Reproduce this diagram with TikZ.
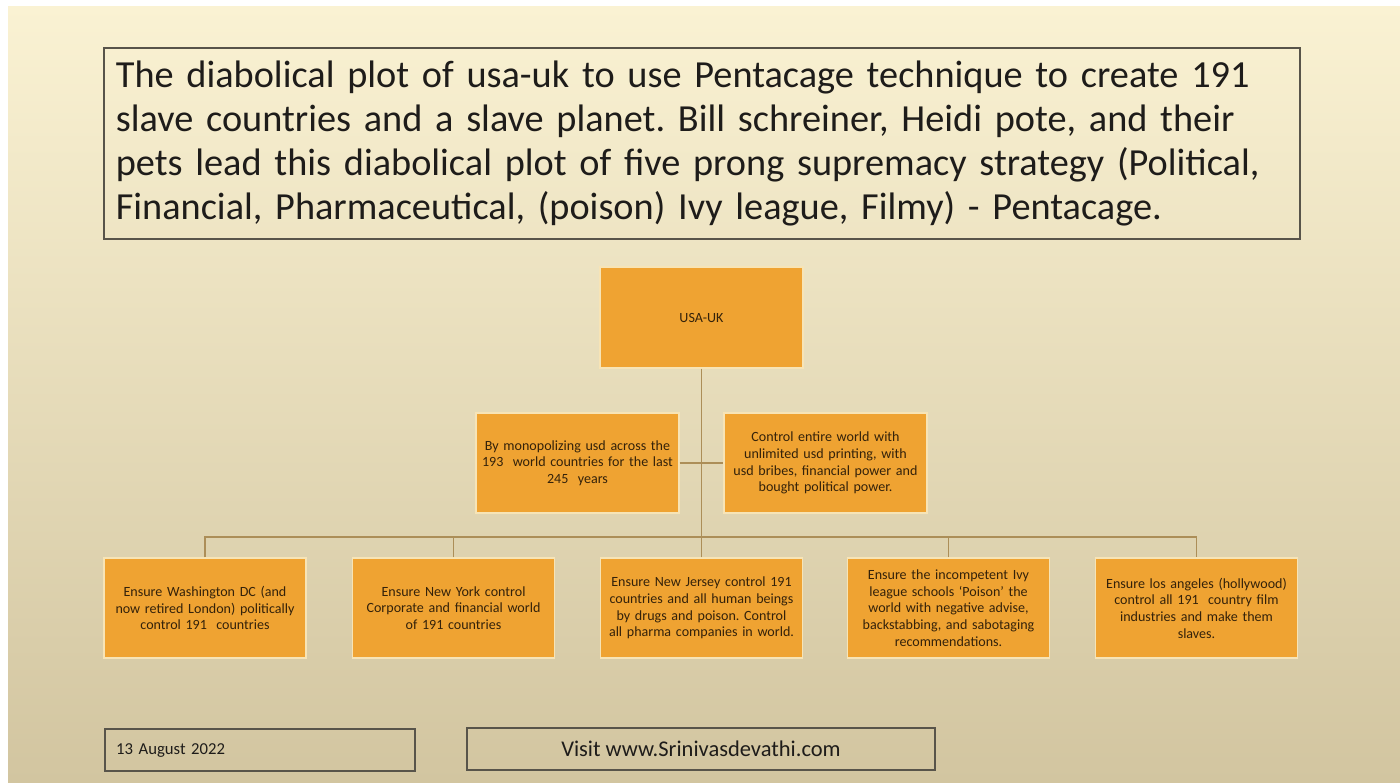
\documentclass[tikz,border=0pt]{standalone}
\usepackage{fontspec}
\setmainfont{Carlito}
\frenchspacing
\definecolor{creamtop}{RGB}{250,242,211}
\definecolor{creammid}{RGB}{242,232,196}
\definecolor{tanbottom}{RGB}{210,197,160}
\definecolor{prongfill}{RGB}{239,163,50}
\definecolor{prongrim}{RGB}{247,228,182}
\definecolor{prongink}{RGB}{52,34,10}
\definecolor{linkbrown}{RGB}{172,142,88}
\definecolor{platerim}{RGB}{88,84,74}
\definecolor{plateink}{RGB}{30,28,26}
\tikzset{
  prong/.style={fill=prongfill, draw=prongrim, line width=0.8pt, text=prongink,
    minimum width=4.04cm, minimum height=2cm, text width=3.95cm, align=center,
    inner sep=0pt, font=\fontsize{8}{9.5}\selectfont},
  link/.style={draw=linkbrown, line width=1pt},
  plate/.style={draw=platerim, line width=1pt, text=plateink, inner sep=0pt}
}
\begin{document}
\begin{tikzpicture}[x=0.02cm, y=-0.02cm]
  \useasboundingbox (0,0) rectangle (1400,782);
  \fill[white] (0,0) rectangle (1400,782);
  \shade[top color=creamtop, middle color=creammid, bottom color=tanbottom] (8,6) rectangle (1400,782);

  \node[plate, anchor=north west, minimum width=23.92cm, minimum height=3.82cm,
    text width=23.44cm, align=left, font=\fontsize{21.8}{25}\selectfont] (title) at (103,47)
    {The diabolical plot of usa-uk to use Pentacage technique to create 191\\
     slave countries and a slave planet. Bill schreiner, Heidi pote, and their\\
     pets lead this diabolical plot of five prong supremacy strategy (Political,\\
     Financial, Pharmaceutical, (poison) Ivy league, Filmy) - Pentacage.};

  \node[prong, minimum width=4.06cm, minimum height=2.02cm] (usa) at (701.5,317.5) {USA-UK};
  \node[prong, minimum width=4.06cm] (usd) at (577.5,463)
    {By monopolizing usd across the\\ 193 \ world countries for the last\\ 245 \ years};
  \node[prong, minimum width=4.06cm] (print) at (825.5,463)
    {Control entire world with\\ unlimited usd printing, with\\ usd bribes, financial power and\\ bought political power.};

  \node[prong] (dc) at (205,608)
    {Ensure Washington DC (and\\ now retired London) politically\\ control 191 \ countries};
  \node[prong] (ny) at (453.5,608)
    {Ensure New York control\\ Corporate and financial world\\ of 191 countries};
  \node[prong] (nj) at (701.5,608)
    {Ensure New Jersey control 191\\ countries and all human beings\\ by drugs and poison. Control\\ all pharma companies in world.};
  \node[prong] (ivy) at (948.5,608)
    {Ensure the incompetent Ivy\\ league schools `Poison' the\\ world with negative advise,\\ backstabbing, and sabotaging\\ recommendations.};
  \node[prong] (la) at (1196.5,608)
    {Ensure los angeles (hollywood)\\ control all 191 \ country film\\ industries and make them\\ slaves.};

  \coordinate (bus) at (701.5,537);
  \draw[link] (usa.south) -- (bus);
  \draw[link] (usd.east) -- (usd.east -| bus) -- (print.west);
  \draw[link] (dc.north) |- (bus) -| (la.north);
  \draw[link] (ny.north) -- (ny.north |- bus);
  \draw[link] (nj.north) -- (bus);
  \draw[link] (ivy.north) -- (ivy.north |- bus);

  \node[plate, line width=1.3pt, anchor=north west, minimum width=6.2cm, minimum height=0.84cm,
    text width=5.76cm, inner xsep=0.22cm, align=left, font=\fontsize{9.5}{11}\selectfont] (date) at (104,728)
    {13 August 2022};
  \node[plate, line width=1.3pt, minimum width=9.36cm, minimum height=0.84cm,
    font=\fontsize{12.8}{15}\selectfont] (visit) at (701,749)
    {Visit www.Srinivasdevathi.com};
\end{tikzpicture}
\end{document}
